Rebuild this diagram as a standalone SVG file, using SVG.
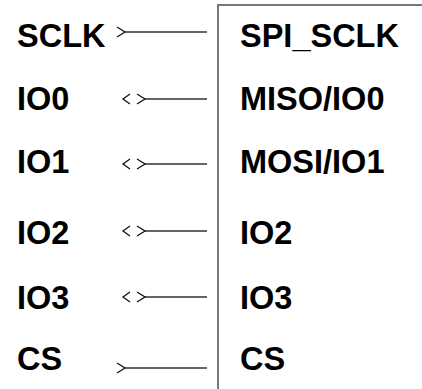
<svg xmlns="http://www.w3.org/2000/svg" width="422" height="389" viewBox="0 0 422 389">
<style>
text{font-family:"Liberation Sans",Arial,sans-serif;font-weight:bold;font-size:32.5px;fill:#000}
.w{stroke:#333;stroke-width:1.6;fill:none}
.h{stroke:#111;stroke-width:1.3;fill:none}
.box{stroke:#777;stroke-width:2;fill:none}
</style>
<defs>
<path id="in" class="h" d="M117,-5 L125,0 L117,5"/>
<path id="bi" class="h" d="M130,-5 L123,0 L130,5 M137,-5 L145,0 L137,5"/>
</defs>
<g id="chip"><path class="box" d="M218,389 V5 H422"/>
<text x="240" y="47">SPI_SCLK</text>
<text x="240" y="110">MISO/IO0</text>
<text x="240" y="173">MOSI/IO1</text>
<text x="240" y="244">IO2</text>
<text x="240" y="309">IO3</text>
<text x="240" y="370">CS</text>
</g>
<g id="sclk"><text x="17" y="47">SCLK</text></g>
<g id="io0"><text x="17" y="110">IO0</text></g>
<g id="io1"><text x="17" y="173">IO1</text></g>
<g id="io2"><text x="17" y="244">IO2</text></g>
<g id="io3"><text x="17" y="309">IO3</text></g>
<g id="cs"><text x="17" y="370">CS</text></g>
<g id="connectors">
<line class="w" x1="125" y1="32" x2="207" y2="32"/><use href="#in" y="32"/>
<line class="w" x1="145" y1="99" x2="207" y2="99"/><use href="#bi" y="99"/>
<line class="w" x1="145" y1="164" x2="207" y2="164"/><use href="#bi" y="164"/>
<line class="w" x1="145" y1="231" x2="207" y2="231"/><use href="#bi" y="231"/>
<line class="w" x1="145" y1="297" x2="207" y2="297"/><use href="#bi" y="297"/>
<line class="w" x1="125" y1="368" x2="207" y2="368"/><use href="#in" y="368"/>
</g>
</svg>
